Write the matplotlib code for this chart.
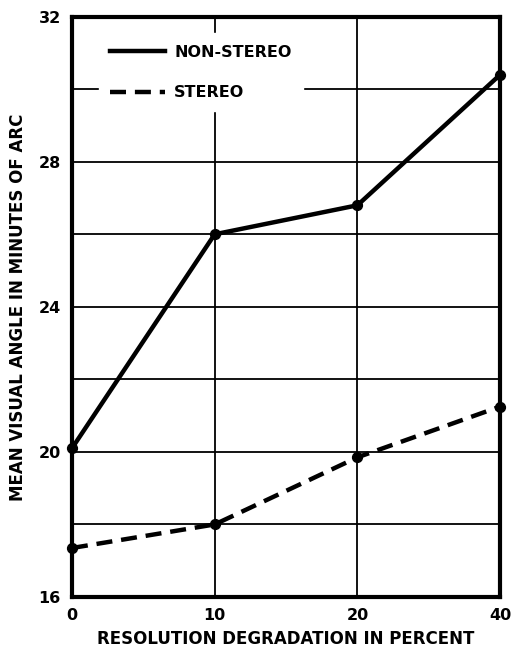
import matplotlib as mpl
mpl.use("Agg")
from matplotlib import pyplot as plt
import numpy as np

categories = ["0", "10", "20", "40"]
non_stereo = [20.1, 26.0, 26.8, 30.4]
stereo = [17.35, 18.0, 19.85, 21.25]
y_ticks = [16, 20, 24, 28, 32]


def main():
  plt.rcParams.update({'font.family': 'DejaVu Sans', 'font.weight': 'bold'})
  fig = plt.figure(figsize=(5.14, 6.52), dpi=100)
  ax = fig.add_axes([0.140, 0.0844, 0.833, 0.890])

  x = np.arange(len(categories))
  # lines carry the legend, markers drawn separately so the legend shows no dots
  ax.plot(x, non_stereo, c="black", lw=3.2, label="NON-STEREO", zorder=3, clip_on=False)
  ax.plot(x, stereo, c="black", lw=3.2, ls=(0, (3.6, 2.0)), label="STEREO", zorder=3,
          clip_on=False)
  ax.scatter(x, non_stereo, c="black", s=50, zorder=4, clip_on=False)
  ax.scatter(x, stereo, c="black", s=50, zorder=4, clip_on=False)

  ax.set_xlim(0, len(categories) - 1)
  ax.set_ylim(16, 32)
  ax.set_xticks(x)
  ax.set_xticklabels(categories)
  ax.set_yticks(y_ticks)
  ax.set_yticks(np.arange(16, 33, 2), minor=True)
  ax.tick_params(axis="both", which="both", length=0, labelsize=11.5, pad=8)
  ax.grid(True, which="both", c="black", lw=1.3)

  for s in ax.spines.values():
    s.set_linewidth(3)

  ax.set_xlabel("RESOLUTION DEGRADATION IN PERCENT", fontsize=12, fontweight="bold", labelpad=5)
  ax.set_ylabel("MEAN VISUAL ANGLE IN MINUTES OF ARC", fontsize=12, fontweight="bold", labelpad=8)

  leg = ax.legend(loc="upper left", bbox_to_anchor=(0.045, 0.985), frameon=True, framealpha=1,
                  edgecolor="white", facecolor="white", fancybox=False, handlelength=3.4,
                  fontsize=11.5, borderpad=0.7, labelspacing=1.6, handletextpad=0.6)
  leg.set_zorder(5)

  plt.savefig("out.png", dpi=100)


if __name__ == "__main__":
  main()
